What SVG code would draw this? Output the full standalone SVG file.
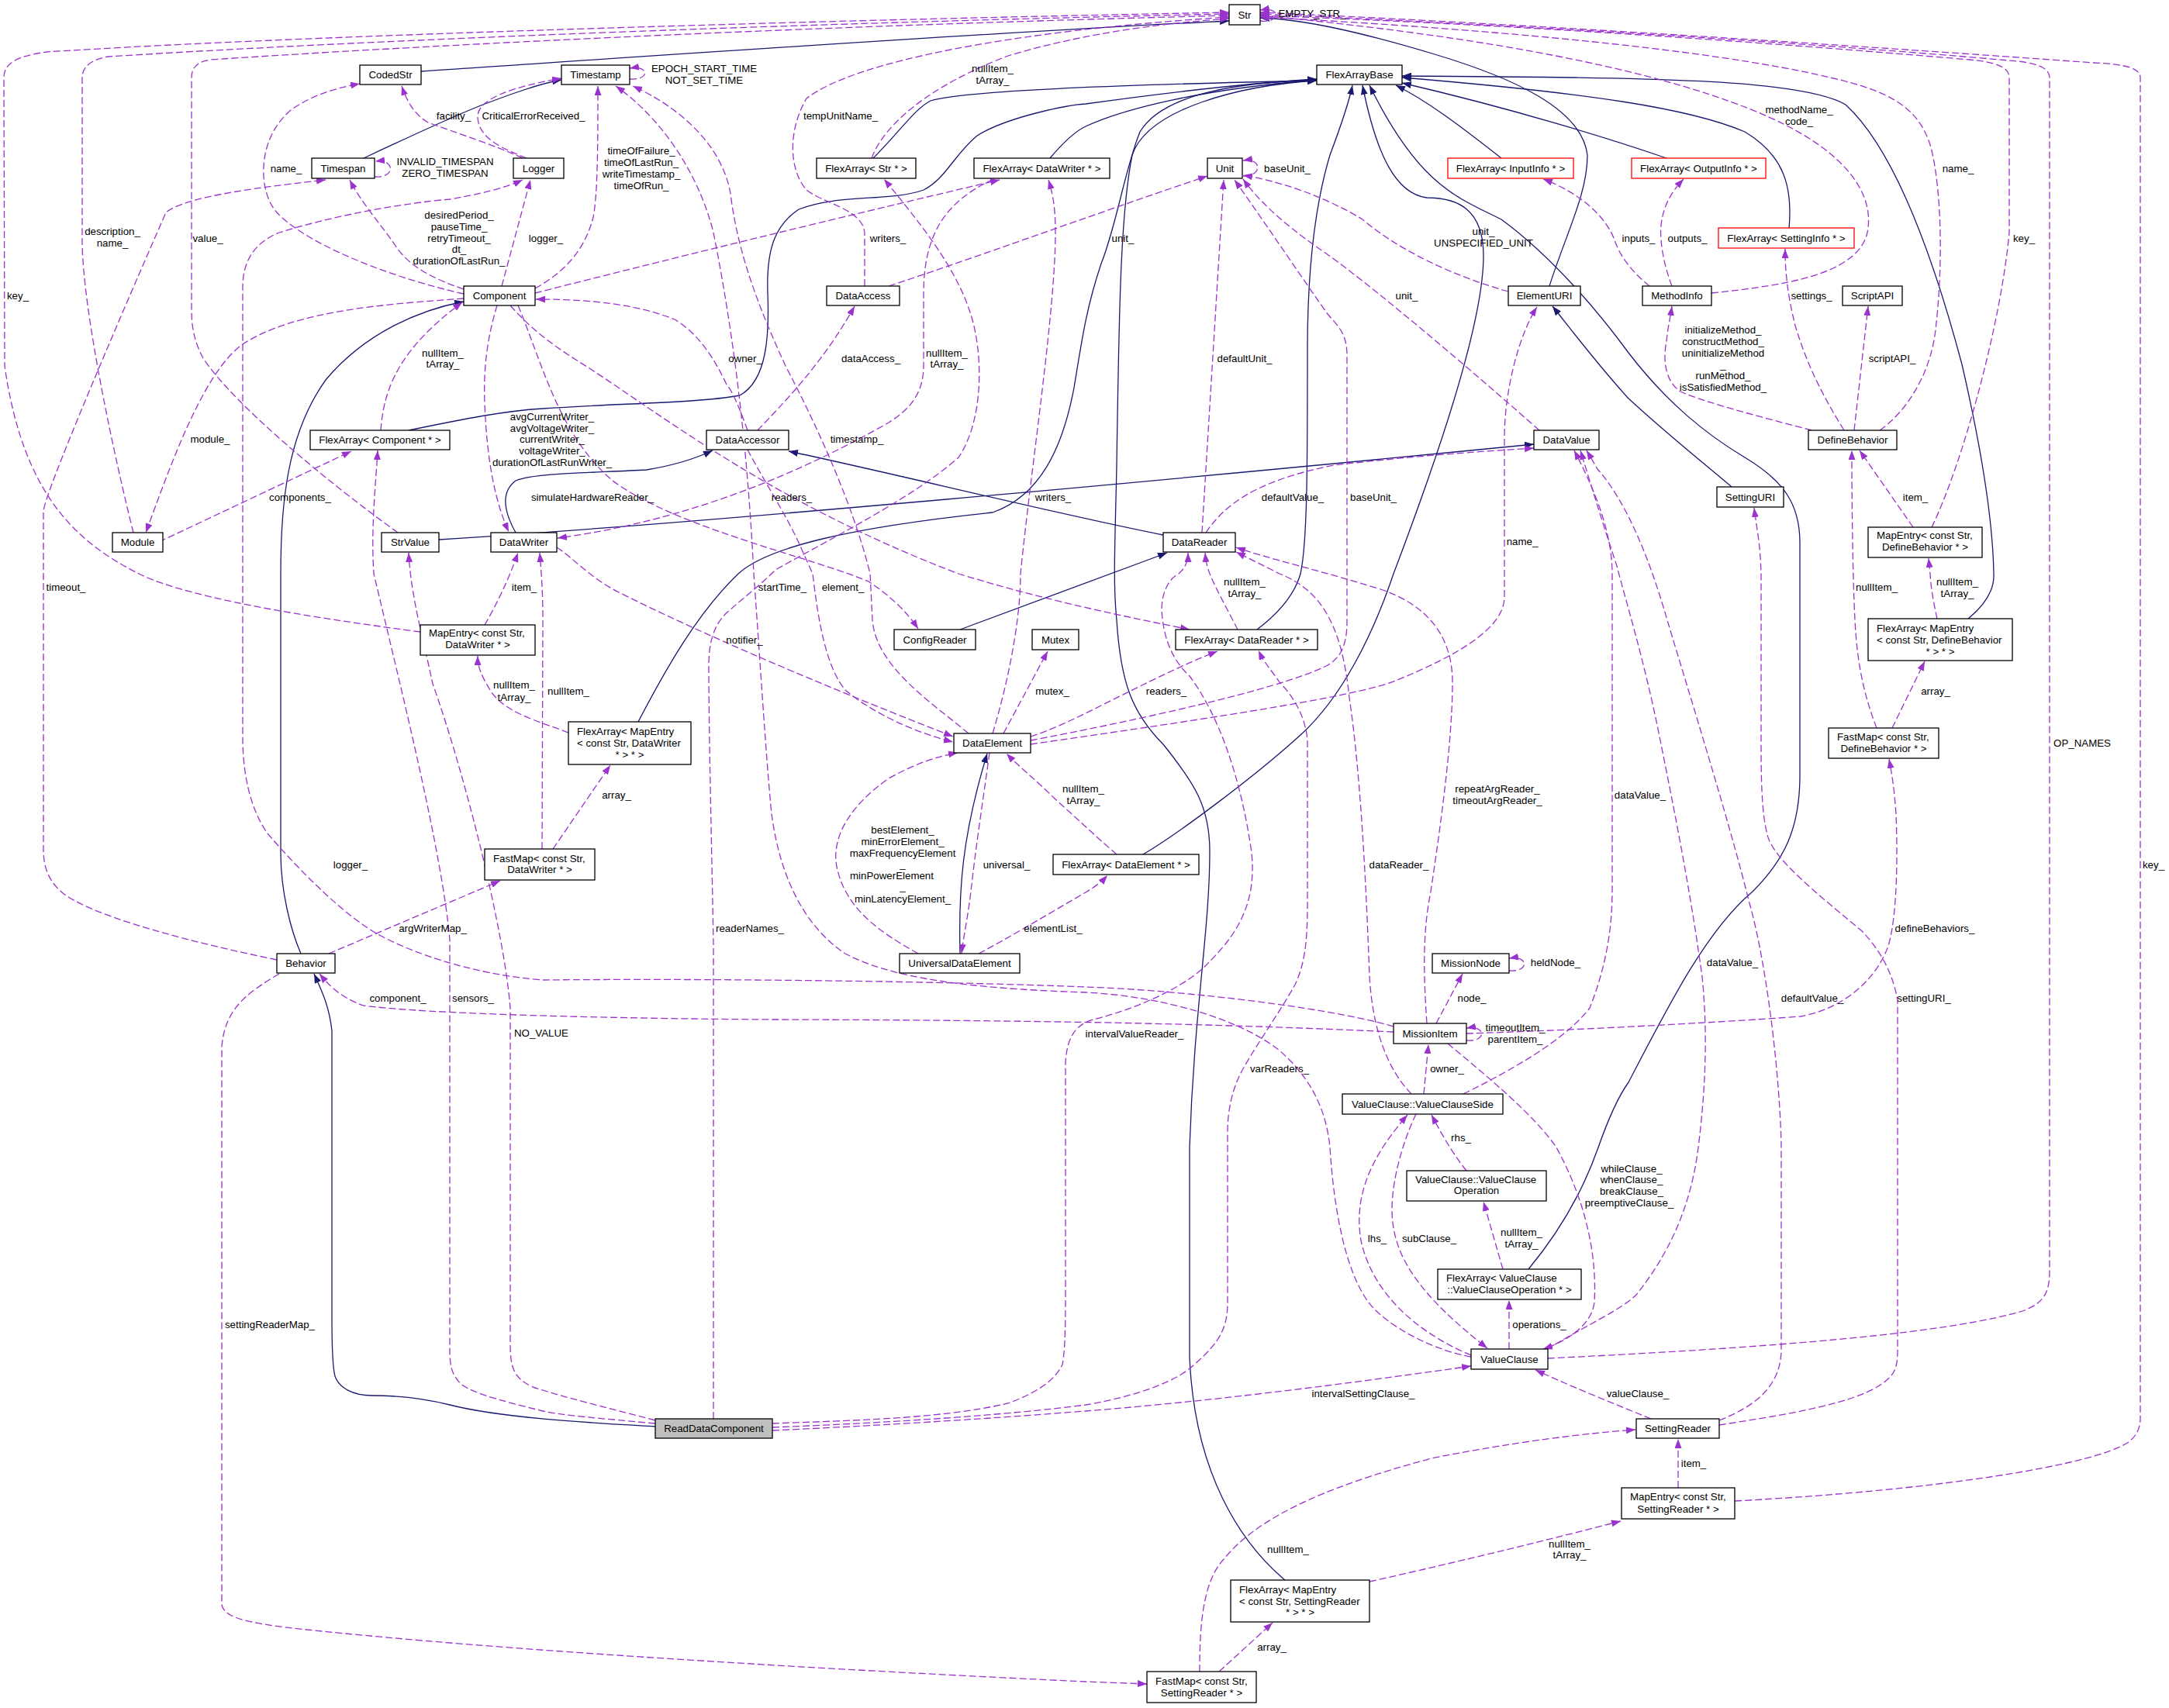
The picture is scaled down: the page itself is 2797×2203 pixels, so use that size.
<svg xmlns="http://www.w3.org/2000/svg" width="2797" height="2203" viewBox="0 0 2797 2203">
<style>
text{font-family:"Liberation Sans",Arial,Helvetica,sans-serif;font-size:13.3px;fill:#000}
.node rect{fill:#fff;stroke:#000;stroke-width:1.3}
.node.red rect{stroke:#ff0000}
.node.main rect{fill:#bfbfbf}
.node text{text-anchor:middle}
.node text.l{text-anchor:start}
.use{fill:none;stroke:#9a32cd;stroke-width:1.3;stroke-dasharray:9,4;marker-end:url(#ap)}
.inh{fill:none;stroke:#191970;stroke-width:1.3;marker-end:url(#ab)}
.lbl text{text-anchor:middle}
</style>
<defs>
<marker id="ap" markerUnits="userSpaceOnUse" markerWidth="12" markerHeight="9" refX="12" refY="4.5" orient="auto"><path d="M0,0 L12,4.5 L0,9 z" fill="#9a32cd"/></marker>
<marker id="ab" markerUnits="userSpaceOnUse" markerWidth="12" markerHeight="9" refX="12" refY="4.5" orient="auto"><path d="M0,0 L12,4.5 L0,9 z" fill="#191970"/></marker>
</defs>
<rect width="2797" height="2203" fill="#fff"/>
<g id="connectors">
<path class="inh" d="M543,92 C800,75 1300,40 1585,27"/>
<path class="inh" d="M469,204 C520,180 580,152 620,136 C660,121 695,108 724,103"/>
<path class="inh" d="M388,1230 C375,1200 362,1150 362,1100 L362,740 C362,650 370,560 420,490 C470,430 540,400 598,389"/>
<path class="inh" d="M845,1840 C780,1836 650,1830 580,1812 C540,1802 500,1800 480,1800 C455,1800 437,1790 432,1775 C428,1760 428,1720 428,1700 L428,1330 C425,1300 416,1280 405,1256"/>
<path class="inh" d="M665,687 C650,660 645,635 665,620 C690,610 760,610 834,606 C870,600 900,590 919,581"/>
<path class="inh" d="M566,696 C900,675 1500,620 1978,573"/>
<path class="inh" d="M1500,690 C1350,660 1150,610 1017,582"/>
<path class="inh" d="M1238,812 L1505,713"/>
<path class="inh" d="M1238,1230 C1236,1150 1240,1080 1273,972"/>
<path class="inh" d="M1998,369 C2020,300 2047,250 2047,200 C2040,140 1950,100 1850,70 C1750,40 1680,25 1625,23"/>
<path class="inh" d="M2233,628 C2200,600 2150,560 2100,514 C2060,470 2030,430 2002,395"/>
<path class="inh" d="M1126,204 C1160,170 1180,140 1200,130 C1250,115 1500,108 1698,104"/>
<path class="inh" d="M1354,204 C1370,185 1385,170 1400,163 C1450,140 1550,115 1698,103"/>
<path class="inh" d="M527,555 C600,540 650,530 700,527 C800,520 900,520 954,510 C990,490 992,430 990,378 C988,320 1000,290 1030,270 C1080,250 1150,260 1191,245 C1220,230 1230,200 1260,175 C1300,150 1380,135 1400,134 C1500,120 1600,108 1698,102"/>
<path class="inh" d="M823,931 C860,860 900,790 952,740 C990,705 1100,680 1280,661 C1340,640 1370,580 1385,500 C1395,440 1400,400 1420,340 C1440,290 1450,220 1470,170 C1500,120 1600,106 1698,103"/>
<path class="inh" d="M1657,2038 C1600,1990 1540,1900 1534,1750 L1534,1480 C1540,1300 1560,1200 1560,1098 C1560,1040 1540,1010 1500,960 C1460,920 1445,880 1440,800 C1435,750 1438,700 1440,600 C1443,400 1445,274 1460,200 C1480,140 1600,110 1698,104"/>
<path class="inh" d="M1621,812 C1650,790 1670,765 1677,740 C1686,700 1686,600 1686,450 C1686,330 1700,250 1715,200 C1730,160 1740,130 1744,110"/>
<path class="inh" d="M1474,1102 C1520,1075 1620,1000 1677,948 C1730,900 1770,820 1797,740 C1850,600 1913,420 1913,330 C1913,270 1880,255 1840,255 C1800,250 1775,200 1757,110"/>
<path class="inh" d="M1936,204 C1880,160 1840,130 1800,110"/>
<path class="inh" d="M2149,204 C2080,180 1950,140 1808,107"/>
<path class="inh" d="M2307,294 C2312,240 2300,200 2250,170 C2180,140 2050,120 1808,100"/>
<path class="inh" d="M2538,798 C2560,780 2572,760 2571,740 C2570,680 2560,600 2530,470 C2490,320 2440,190 2380,135 C2320,100 2100,100 1808,98"/>
<path class="inh" d="M1971,1637 C2010,1590 2040,1540 2061,1480 C2075,1440 2090,1410 2100,1396 C2150,1300 2200,1200 2260,1150 C2300,1110 2321,1070 2321,1000 L2321,700 C2321,650 2300,620 2250,590 C2200,560 2150,520 2100,455 C2060,400 2000,330 1936,283 C1880,255 1830,240 1766,110"/>

<path class="use" d="M1625,27 C1652,30 1652,8 1625,13"/>
<path class="use" d="M542,815 C430,800 250,775 179,740 C100,700 30,640 6,472 L5,100 C5,80 25,72 60,67 C400,45 1100,25 1585,16"/>
<path class="use" d="M172,687 C150,600 106,400 106,310 L106,100 C106,85 120,76 140,73 C500,50 1100,28 1585,18"/>
<path class="use" d="M513,687 C420,620 300,520 262,462 C250,440 247,420 247,400 L247,100 C247,86 256,79 272,77 C600,55 1100,32 1585,20"/>
<path class="use" d="M1115,369 L1115,302 C1115,270 1060,262 1040,245 C1018,220 1015,170 1040,127 C1100,80 1300,40 1585,22"/>
<path class="use" d="M1124,204 C1140,160 1200,110 1300,72 C1400,42 1500,30 1585,24"/>
<path class="use" d="M2207,378 C2300,368 2395,355 2408,300 C2418,250 2380,200 2300,160 C2200,110 2000,55 1625,20"/>
<path class="use" d="M2424,555 C2460,530 2490,480 2496,425 C2505,350 2505,250 2490,190 C2475,140 2440,118 2360,100 C2200,62 1900,36 1625,22"/>
<path class="use" d="M2491,680 C2530,600 2580,420 2591,300 L2591,100 C2591,86 2572,80 2540,77 C2200,48 1900,30 1625,20"/>
<path class="use" d="M1996,1752 C2200,1742 2500,1725 2611,1690 C2635,1680 2643,1668 2643,1640 L2643,100 C2643,86 2622,80 2590,78 C2300,52 1900,30 1625,18"/>
<path class="use" d="M2237,1936 C2500,1922 2700,1890 2745,1860 C2755,1852 2760,1842 2760,1830 L2760,100 C2760,88 2742,83 2700,81 C2300,52 1900,28 1625,16"/>
<path class="use" d="M674,204 C640,188 590,172 552,158 C535,148 525,132 518,111"/>
<path class="use" d="M679,204 C650,192 618,180 616,152 C614,128 660,112 724,101"/>
<path class="use" d="M598,379 C520,362 400,320 357,274 C333,248 330,180 375,142 C400,124 430,114 464,108"/>
<path class="use" d="M598,373 C560,360 530,345 512,320 C492,290 466,262 451,232"/>
<path class="use" d="M647,369 L684,232"/>
<path class="use" d="M690,372 C730,350 755,320 765,280 C771,250 771,180 771,111"/>
<path class="use" d="M690,378 C800,350 1000,300 1289,232"/>
<path class="use" d="M598,385 C500,392 380,400 313,444 C262,480 220,600 188,687"/>
<path class="use" d="M491,555 C495,500 515,450 596,390"/>
<path class="use" d="M205,699 L453,582"/>
<path class="use" d="M641,394 C630,430 623,470 625,520 C628,600 640,650 656,686"/>
<path class="use" d="M658,394 C690,430 720,450 760,475 C860,540 1000,650 1236,740 C1350,775 1450,795 1534,812"/>
<path class="use" d="M668,394 C700,470 720,560 790,620 C870,680 1050,720 1120,750 C1150,770 1170,790 1184,811"/>
<path class="use" d="M1146,369 C1250,335 1400,280 1557,227"/>
<path class="use" d="M977,555 C1010,520 1060,470 1102,395"/>
<path class="use" d="M1281,231 C1220,260 1191,300 1191,380 L1191,472 C1191,510 1170,530 1146,545 C1050,600 900,670 719,694"/>
<path class="use" d="M1280,946 C1300,880 1316,800 1316,740 C1330,600 1361,400 1361,300 C1361,262 1356,245 1352,232"/>
<path class="use" d="M1249,946 C1200,905 1130,860 1125,800 L1122,740 C1110,690 1080,600 1013,472 C980,400 952,330 942,250 C932,190 880,140 816,111"/>
<path class="use" d="M1897,1750 C1850,1742 1790,1712 1765,1680 C1735,1640 1720,1560 1715,1480 C1710,1430 1690,1390 1650,1355 C1600,1315 1500,1285 1400,1280 C1250,1275 1150,1262 1090,1230 C1030,1190 1004,1118 995,1050 C988,980 980,850 972,740 C965,600 950,450 920,300 C900,220 850,150 794,111"/>
<path class="use" d="M964,555 C955,530 945,505 937,496 C920,460 900,430 870,412 C820,392 760,386 691,386"/>
<path class="use" d="M964,580 C985,620 1012,661 1030,700 L1048,740 C1055,800 1065,860 1090,890 C1124,919 1180,945 1229,957"/>
<path class="use" d="M718,706 C740,720 760,745 800,765 C900,815 1050,880 1229,950"/>
<path class="use" d="M1550,687 L1578,232"/>
<path class="use" d="M1555,687 C1580,650 1620,620 1720,600 C1850,585 1950,580 1978,578"/>
<path class="use" d="M1985,555 C1900,480 1760,360 1700,320 C1650,285 1620,255 1603,231"/>
<path class="use" d="M1945,376 C1870,355 1800,320 1757,283 C1720,260 1660,235 1603,226"/>
<path class="use" d="M1329,955 C1450,932 1650,890 1712,858 C1735,845 1737,820 1737,800 L1737,458 C1737,430 1725,420 1712,405 C1680,360 1640,300 1592,232"/>
<path class="use" d="M1329,960 C1500,935 1750,900 1802,877 C1880,845 1940,810 1940,770 L1940,566 C1940,500 1960,430 1982,396"/>
<path class="use" d="M1329,950 C1360,940 1390,925 1420,910 C1480,880 1530,855 1570,840"/>
<path class="use" d="M1294,946 L1351,840"/>
<path class="use" d="M1276,971 C1268,1030 1258,1094 1252,1150 C1247,1190 1242,1210 1240,1230"/>
<path class="use" d="M1184,1230 C1130,1200 1090,1170 1079,1118 C1072,1080 1095,1040 1146,1004 C1180,985 1210,975 1235,971"/>
<path class="use" d="M1262,1230 C1300,1210 1350,1180 1400,1151 C1410,1145 1420,1138 1428,1129"/>
<path class="use" d="M1440,1102 C1420,1085 1400,1066 1360,1030 C1335,1005 1315,990 1298,972"/>
<path class="use" d="M1596,812 C1585,790 1568,760 1560,740 C1557,732 1555,725 1554,713"/>
<path class="use" d="M996,1836 C1100,1832 1213,1830 1300,1810 C1340,1795 1360,1780 1370,1760 C1374,1740 1374,1700 1374,1650 L1374,1370 C1376,1340 1385,1322 1410,1315 C1470,1300 1534,1270 1560,1240 C1600,1200 1620,1160 1614,1100 C1600,1000 1570,920 1534,872 C1510,850 1500,820 1498,787 C1498,760 1510,745 1520,740 C1528,733 1532,725 1532,713"/>
<path class="use" d="M996,1841 C1150,1835 1300,1825 1400,1812 C1470,1800 1520,1780 1540,1760 C1575,1730 1583,1710 1583,1680 L1583,1460 C1583,1430 1590,1400 1605,1375 C1625,1340 1650,1306 1670,1270 C1686,1236 1686,1200 1686,1150 L1686,960 C1686,930 1670,900 1650,880 C1640,865 1630,855 1623,839"/>
<path class="use" d="M996,1845 C1150,1838 1300,1828 1400,1820 C1550,1808 1700,1790 1897,1762"/>
<path class="use" d="M920,1830 L920,1220 C918,1100 914,950 914,858 C914,820 925,800 941,787 C960,770 980,755 1000,735 C1080,690 1180,640 1236,590 C1270,540 1268,450 1250,400 C1230,340 1180,280 1140,231"/>
<path class="use" d="M845,1836 C780,1830 720,1825 700,1820 C640,1805 600,1795 590,1780 C582,1770 580,1760 580,1740 L580,1212 C570,1100 520,900 482,740 C478,680 485,620 487,581"/>
<path class="use" d="M845,1832 C780,1815 720,1800 700,1793 C680,1788 670,1780 664,1770 C659,1760 658,1750 658,1730 L658,1300 C650,1200 600,1000 558,882 C545,820 530,770 527,713"/>
<path class="use" d="M1797,1331 C1600,1322 1400,1316 1000,1315 C800,1314 550,1308 469,1297 C440,1287 425,1272 412,1256"/>
<path class="use" d="M1797,1324 C1700,1296 1500,1276 1400,1273 C1200,1265 900,1262 700,1264 C600,1256 525,1225 491,1207 C440,1180 375,1110 345,1075 C320,1040 313,990 313,952 L313,370 C313,335 330,312 360,300 C430,278 520,262 580,257 C620,250 650,243 674,232"/>
<path class="use" d="M357,1238 C250,1216 130,1185 85,1155 C62,1138 56,1118 56,1095 L56,660 C56,640 150,420 214,274 C240,252 350,240 420,232"/>
<path class="use" d="M360,1256 C320,1280 290,1300 286,1350 L286,2070 C290,2090 330,2096 446,2107 C700,2132 1100,2155 1400,2169 L1479,2172"/>
<path class="use" d="M424,1230 L645,1136"/>
<path class="use" d="M713,1095 L787,987"/>
<path class="use" d="M699,1095 L700,800 C700,760 698,740 696,713"/>
<path class="use" d="M733,945 C700,932 650,920 632,890 C620,870 616,860 616,846"/>
<path class="use" d="M625,806 C640,780 655,750 668,713"/>
<path class="use" d="M1852,1320 L1886,1256"/>
<path class="use" d="M1836,1411 L1842,1347"/>
<path class="use" d="M1826,1437 C1810,1470 1795,1520 1795,1560 C1795,1620 1830,1670 1918,1739"/>
<path class="use" d="M1897,1748 C1830,1720 1770,1670 1755,1600 C1745,1540 1770,1490 1815,1438"/>
<path class="use" d="M1891,1510 C1875,1490 1860,1465 1846,1438"/>
<path class="use" d="M1938,1637 L1913,1550"/>
<path class="use" d="M1946,1740 L1946,1677"/>
<path class="use" d="M1887,1411 C1950,1380 2020,1340 2050,1300 C2070,1250 2079,1200 2079,1150 L2079,740 C2079,680 2050,620 2030,581"/>
<path class="use" d="M1994,1741 C2040,1712 2090,1690 2110,1670 C2150,1620 2180,1560 2190,1480 C2200,1400 2202,1330 2195,1260 C2180,1150 2160,1050 2140,950 C2120,850 2095,770 2085,730 C2065,670 2050,620 2038,581"/>
<path class="use" d="M1867,1346 C1920,1390 1980,1440 2007,1480 C2040,1540 2060,1610 2056,1680 C2052,1710 2020,1730 1990,1740"/>
<path class="use" d="M1840,1320 C1835,1250 1835,1200 1845,1150 C1860,1050 1873,950 1873,880 C1873,820 1840,780 1780,760 C1700,735 1640,722 1594,706"/>
<path class="use" d="M1820,1411 C1790,1380 1770,1330 1766,1259 C1762,1150 1755,1000 1740,900 C1730,800 1700,760 1650,740 C1630,730 1610,720 1594,712"/>
<path class="use" d="M1891,1333 C2000,1330 2200,1320 2322,1311 C2380,1300 2420,1262 2435,1220 C2447,1180 2447,1100 2445,1050 C2443,1020 2440,1000 2436,979"/>
<path class="use" d="M2217,1832 C2260,1815 2297,1790 2297,1740 L2297,1480 C2296,1400 2280,1250 2256,1165 C2230,1060 2180,900 2150,800 C2130,730 2100,650 2060,605 L2046,581"/>
<path class="use" d="M2217,1838 C2300,1825 2400,1810 2433,1780 C2445,1770 2447,1760 2447,1740 L2447,1290 C2440,1250 2420,1220 2400,1200 C2340,1150 2290,1110 2280,1080 C2271,1050 2271,1000 2271,950 L2271,740 C2270,700 2265,680 2262,655"/>
<path class="use" d="M2129,1830 C2080,1810 2030,1790 1980,1767"/>
<path class="use" d="M2164,1919 L2164,1856"/>
<path class="use" d="M1766,2040 C1900,2010 2000,1985 2090,1962"/>
<path class="use" d="M1572,2156 L1641,2093"/>
<path class="use" d="M1547,2156 C1547,2100 1550,2040 1579,2010 C1620,1960 1700,1920 1846,1881 C1950,1860 2050,1848 2109,1844"/>
<path class="use" d="M2127,369 C2110,355 2090,335 2081,307 C2070,280 2040,250 1990,231"/>
<path class="use" d="M2156,369 C2145,340 2140,310 2142,290 C2145,265 2155,248 2171,231"/>
<path class="use" d="M2336,555 C2280,540 2200,520 2167,505 C2145,490 2145,460 2149,440 C2151,420 2154,410 2156,395"/>
<path class="use" d="M2378,555 C2350,510 2330,470 2315,420 C2305,380 2302,350 2302,321"/>
<path class="use" d="M2391,555 L2409,395"/>
<path class="use" d="M2467,680 L2398,581"/>
<path class="use" d="M2420,939 C2405,900 2395,860 2392,800 C2389,740 2388,650 2388,581"/>
<path class="use" d="M2440,939 L2482,853"/>
<path class="use" d="M2498,798 C2494,780 2490,760 2489,740 L2487,720"/>
<path class="use" d="M483,228 C510,230 510,205 484,208"/>
<path class="use" d="M812,102 C838,104 838,84 812,88"/>
<path class="use" d="M1603,227 C1628,228 1628,203 1603,207"/>
<path class="use" d="M1946,1252 C1972,1254 1972,1232 1946,1236"/>
<path class="use" d="M1891,1342 C1917,1344 1917,1322 1891,1326"/>
<g class="lbl">
<text x="1692" y="21.5">EMPTY_STR_</text>
<text x="688" y="153.5">CriticalErrorReceived_</text>
<text x="585" y="153.5">facility_</text>
<text x="369" y="221.5">name_</text>
<text x="574" y="212.5">INVALID_TIMESPAN</text><text x="574" y="227.5">ZERO_TIMESPAN</text>
<text x="908" y="92.5">EPOCH_START_TIME</text><text x="908" y="107.5">NOT_SET_TIME</text>
<text x="1280" y="92.5">nullItem_</text><text x="1280" y="107.5">tArray_</text>
<text x="1084" y="153.5">tempUnitName_</text>
<text x="827" y="198.5">timeOfFailure_</text><text x="827" y="213.5">timeOfLastRun_</text><text x="827" y="228.5">writeTimestamp_</text><text x="827" y="243.5">timeOfRun_</text>
<text x="2320" y="145.5">methodName_</text><text x="2320" y="160.5">code_</text>
<text x="1660" y="221.5">baseUnit_</text>
<text x="2525" y="221.5">name_</text>
<text x="145" y="302.5">description_</text><text x="145" y="317.5">name_</text>
<text x="268" y="311.5">value_</text>
<text x="592" y="281.5">desiredPeriod_</text><text x="592" y="296.5">pauseTime_</text><text x="592" y="311.5">retryTimeout_</text><text x="592" y="325.5">dt_</text><text x="592" y="340.5">durationOfLastRun_</text>
<text x="704" y="311.5">logger_</text>
<text x="1145" y="311.5">writers_</text>
<text x="1448" y="311.5">unit_</text>
<text x="1913" y="302.5">unit_</text><text x="1913" y="317.5">UNSPECIFIED_UNIT</text>
<text x="2113" y="311.5">inputs_</text>
<text x="2176" y="311.5">outputs_</text>
<text x="2610" y="311.5">key_</text>
<text x="23" y="385.5">key_</text>
<text x="1814" y="385.5">unit_</text>
<text x="2336" y="385.5">settings_</text>
<text x="2222" y="429.5">initializeMethod_</text><text x="2222" y="444.5">constructMethod_</text><text x="2222" y="459.5">uninitializeMethod</text><text x="2222" y="474.5">_</text><text x="2222" y="488.5">runMethod_</text><text x="2222" y="503.5">isSatisfiedMethod_</text>
<text x="571" y="459.5">nullItem_</text><text x="571" y="473.5">tArray_</text>
<text x="961" y="466.5">owner_</text>
<text x="1123" y="466.5">dataAccess_</text>
<text x="1221" y="459.5">nullItem_</text><text x="1221" y="473.5">tArray_</text>
<text x="1605" y="466.5">defaultUnit_</text>
<text x="2440" y="466.5">scriptAPI_</text>
<text x="712" y="541.5">avgCurrentWriter_</text><text x="712" y="556.5">avgVoltageWriter_</text><text x="712" y="570.5">currentWriter_</text><text x="712" y="585.5">voltageWriter_</text><text x="712" y="600.5">durationOfLastRunWriter_</text>
<text x="271" y="570.5">module_</text>
<text x="1105" y="570.5">timestamp_</text>
<text x="387" y="645.5">components_</text>
<text x="764" y="645.5">simulateHardwareReader_</text>
<text x="1021" y="645.5">readers_</text>
<text x="1358" y="645.5">writers_</text>
<text x="1667" y="645.5">defaultValue_</text>
<text x="1771" y="645.5">baseUnit_</text>
<text x="2470" y="645.5">item_</text>
<text x="1963" y="702.5">name_</text>
<text x="85" y="761.5">timeout_</text>
<text x="676" y="761.5">item_</text>
<text x="1009" y="761.5">startTime_</text>
<text x="1087" y="761.5">element_</text>
<text x="2420" y="761.5">nullItem_</text>
<text x="1605" y="754.5">nullItem_</text><text x="1605" y="769.5">tArray_</text>
<text x="2524" y="754.5">nullItem_</text><text x="2524" y="769.5">tArray_</text>
<text x="960" y="829.5">notifier_</text>
<text x="663" y="887.5">nullItem_</text><text x="663" y="903.5">tArray_</text>
<text x="733" y="895.5">nullItem_</text>
<text x="1357" y="895.5">mutex_</text>
<text x="1504" y="895.5">readers_</text>
<text x="2496" y="895.5">array_</text>
<text x="2685" y="962.5">OP_NAMES</text>
<text x="1397" y="1021.5">nullItem_</text><text x="1397" y="1036.5">tArray_</text>
<text x="1931" y="1021.5">repeatArgReader_</text><text x="1931" y="1036.5">timeoutArgReader_</text>
<text x="2115" y="1029.5">dataValue_</text>
<text x="795" y="1029.5">array_</text>
<text x="1164" y="1074.5">bestElement_</text><text x="1164" y="1089.5">minErrorElement_</text><text x="1164" y="1104.5">maxFrequencyElement</text><text x="1164" y="1118.5">_</text><text x="1150" y="1133.5">minPowerElement</text><text x="1164" y="1147.5">_</text><text x="1164" y="1163.5">minLatencyElement_</text>
<text x="452" y="1119.5">logger_</text>
<text x="1298" y="1119.5">universal_</text>
<text x="1804" y="1119.5">dataReader_</text>
<text x="2777" y="1119.5">key_</text>
<text x="558" y="1201.5">argWriterMap_</text>
<text x="967" y="1201.5">readerNames_</text>
<text x="1358" y="1201.5">elementList_</text>
<text x="2495" y="1201.5">defineBehaviors_</text>
<text x="2006" y="1245.5">heldNode_</text>
<text x="2234" y="1245.5">dataValue_</text>
<text x="513" y="1291.5">component_</text>
<text x="610" y="1291.5">sensors_</text>
<text x="1898" y="1291.5">node_</text>
<text x="2337" y="1291.5">defaultValue_</text>
<text x="2481" y="1291.5">settingURI_</text>
<text x="1954" y="1329.5">timeoutItem_</text><text x="1954" y="1344.5">parentItem_</text>
<text x="698" y="1336.5">NO_VALUE</text>
<text x="1463" y="1337.5">intervalValueReader_</text>
<text x="1650" y="1382.5">varReaders_</text>
<text x="1866" y="1382.5">owner_</text>
<text x="1884" y="1471.5">rhs_</text>
<text x="2104" y="1511.5">whileClause_</text><text x="2104" y="1525.5">whenClause_</text><text x="2104" y="1540.5">breakClause_</text><text x="2101" y="1555.5">preemptiveClause_</text>
<text x="1776" y="1601.5">lhs_</text>
<text x="1843" y="1601.5">subClause_</text>
<text x="1962" y="1593.5">nullItem_</text><text x="1962" y="1608.5">tArray_</text>
<text x="1985" y="1712.5">operations_</text>
<text x="348" y="1712.5">settingReaderMap_</text>
<text x="1758" y="1801.5">intervalSettingClause_</text>
<text x="2112" y="1801.5">valueClause_</text>
<text x="2184" y="1891.5">item_</text>
<text x="1661" y="2002.5">nullItem_</text>
<text x="2024" y="1995.5">nullItem_</text><text x="2024" y="2009.5">tArray_</text>
<text x="1640" y="2128.5">array_</text>
</g>
</g>
<g id="n-Str" class="node"><rect x="1585" y="6" width="40" height="26"/><text x="1605" y="23.5">Str</text></g>
<g id="n-FlexArrayBase" class="node"><rect x="1698" y="84" width="110" height="25"/><text x="1753" y="101">FlexArrayBase</text></g>
<g id="n-CodedStr" class="node"><rect x="464" y="84" width="79" height="25"/><text x="503.5" y="101">CodedStr</text></g>
<g id="n-Timestamp" class="node"><rect x="724" y="84" width="88" height="25"/><text x="768" y="101">Timestamp</text></g>
<g id="n-Timespan" class="node"><rect x="402" y="204" width="81" height="26"/><text x="442.5" y="221.5">Timespan</text></g>
<g id="n-Logger" class="node"><rect x="662" y="204" width="65" height="26"/><text x="694.5" y="221.5">Logger</text></g>
<g id="n-FlexArrayStr" class="node"><rect x="1053" y="204" width="128" height="26"/><text x="1117" y="221.5">FlexArray&lt; Str * &gt;</text></g>
<g id="n-FlexArrayDataWriter" class="node"><rect x="1256" y="204" width="175" height="26"/><text x="1343.5" y="221.5">FlexArray&lt; DataWriter * &gt;</text></g>
<g id="n-Unit" class="node"><rect x="1557" y="204" width="45" height="26"/><text x="1579.5" y="221.5">Unit</text></g>
<g id="n-FlexArrayInputInfo" class="node red"><rect x="1867" y="204" width="162" height="26"/><text x="1948" y="221.5">FlexArray&lt; InputInfo * &gt;</text></g>
<g id="n-FlexArrayOutputInfo" class="node red"><rect x="2104" y="204" width="173" height="26"/><text x="2190.5" y="221.5">FlexArray&lt; OutputInfo * &gt;</text></g>
<g id="n-FlexArraySettingInfo" class="node red"><rect x="2216" y="294" width="175" height="26"/><text x="2303.5" y="311.5">FlexArray&lt; SettingInfo * &gt;</text></g>
<g id="n-Component" class="node"><rect x="598" y="369" width="92" height="25"/><text x="644" y="386">Component</text></g>
<g id="n-DataAccess" class="node"><rect x="1066" y="369" width="94" height="25"/><text x="1113" y="386">DataAccess</text></g>
<g id="n-ElementURI" class="node"><rect x="1945" y="369" width="93" height="25"/><text x="1991.5" y="386">ElementURI</text></g>
<g id="n-MethodInfo" class="node"><rect x="2118" y="369" width="89" height="25"/><text x="2162.5" y="386">MethodInfo</text></g>
<g id="n-ScriptAPI" class="node"><rect x="2376" y="369" width="77" height="25"/><text x="2414.5" y="386">ScriptAPI</text></g>
<g id="n-FlexArrayComponent" class="node"><rect x="400" y="555" width="180" height="25"/><text x="490" y="572">FlexArray&lt; Component * &gt;</text></g>
<g id="n-DataAccessor" class="node"><rect x="911" y="555" width="106" height="25"/><text x="964" y="572">DataAccessor</text></g>
<g id="n-DataValue" class="node"><rect x="1978" y="555" width="84" height="25"/><text x="2020" y="572">DataValue</text></g>
<g id="n-DefineBehavior" class="node"><rect x="2332" y="555" width="114" height="25"/><text x="2389" y="572">DefineBehavior</text></g>
<g id="n-SettingURI" class="node"><rect x="2214" y="628" width="86" height="26"/><text x="2257" y="645.5">SettingURI</text></g>
<g id="n-MapEntryDefineBehavior" class="node"><rect x="2409" y="680" width="147" height="39"/><text class="l" x="2420" y="695">MapEntry&lt; const Str,</text><text x="2482.5" y="710">DefineBehavior * &gt;</text></g>
<g id="n-Module" class="node"><rect x="145" y="687" width="65" height="25"/><text x="177.5" y="704">Module</text></g>
<g id="n-StrValue" class="node"><rect x="492" y="687" width="74" height="25"/><text x="529" y="704">StrValue</text></g>
<g id="n-DataWriter" class="node"><rect x="633" y="687" width="85" height="25"/><text x="675.5" y="704">DataWriter</text></g>
<g id="n-DataReader" class="node"><rect x="1500" y="687" width="93" height="25"/><text x="1546.5" y="704">DataReader</text></g>
<g id="n-MapEntryDataWriter" class="node"><rect x="542" y="806" width="148" height="39"/><text class="l" x="553" y="821">MapEntry&lt; const Str,</text><text x="616" y="836">DataWriter * &gt;</text></g>
<g id="n-FlexArrayMapEntryDefineBehavior" class="node"><rect x="2409" y="798" width="186" height="54"/><text class="l" x="2420" y="814.5">FlexArray&lt; MapEntry</text><text class="l" x="2420" y="829.5">&lt; const Str, DefineBehavior</text><text x="2502" y="844.5">* &gt; * &gt;</text></g>
<g id="n-ConfigReader" class="node"><rect x="1153" y="812" width="105" height="26"/><text x="1205.5" y="829.5">ConfigReader</text></g>
<g id="n-Mutex" class="node"><rect x="1331" y="812" width="60" height="26"/><text x="1361" y="829.5">Mutex</text></g>
<g id="n-FlexArrayDataReader" class="node"><rect x="1516" y="812" width="183" height="26"/><text x="1607.5" y="829.5">FlexArray&lt; DataReader * &gt;</text></g>
<g id="n-FlexArrayMapEntryDataWriter" class="node"><rect x="733" y="931" width="158" height="55"/><text class="l" x="744" y="948">FlexArray&lt; MapEntry</text><text class="l" x="744" y="963">&lt; const Str, DataWriter</text><text x="812" y="978">* &gt; * &gt;</text></g>
<g id="n-DataElement" class="node"><rect x="1230" y="946" width="99" height="25"/><text x="1279.5" y="963">DataElement</text></g>
<g id="n-FastMapDefineBehavior" class="node"><rect x="2358" y="939" width="142" height="39"/><text class="l" x="2369" y="954.5">FastMap&lt; const Str,</text><text x="2429" y="969.5">DefineBehavior * &gt;</text></g>
<g id="n-FastMapDataWriter" class="node"><rect x="625" y="1095" width="142" height="40"/><text class="l" x="636" y="1111.5">FastMap&lt; const Str,</text><text x="696" y="1125.5">DataWriter * &gt;</text></g>
<g id="n-FlexArrayDataElement" class="node"><rect x="1358" y="1102" width="188" height="26"/><text x="1452" y="1119.5">FlexArray&lt; DataElement * &gt;</text></g>
<g id="n-Behavior" class="node"><rect x="357" y="1230" width="75" height="25"/><text x="394.5" y="1247">Behavior</text></g>
<g id="n-UniversalDataElement" class="node"><rect x="1160" y="1230" width="155" height="25"/><text x="1237.5" y="1247">UniversalDataElement</text></g>
<g id="n-MissionNode" class="node"><rect x="1847" y="1230" width="99" height="25"/><text x="1896.5" y="1247">MissionNode</text></g>
<g id="n-MissionItem" class="node"><rect x="1797" y="1320" width="94" height="26"/><text x="1844" y="1337.5">MissionItem</text></g>
<g id="n-ValueClauseSide" class="node"><rect x="1731" y="1411" width="207" height="26"/><text x="1834.5" y="1428.5">ValueClause::ValueClauseSide</text></g>
<g id="n-ValueClauseOperation" class="node"><rect x="1814" y="1510" width="180" height="39"/><text class="l" x="1825" y="1526">ValueClause::ValueClause</text><text x="1904" y="1540">Operation</text></g>
<g id="n-FlexArrayValueClauseOperation" class="node"><rect x="1854" y="1637" width="185" height="39"/><text class="l" x="1865" y="1653">FlexArray&lt; ValueClause</text><text x="1946.5" y="1668">::ValueClauseOperation * &gt;</text></g>
<g id="n-ValueClause" class="node"><rect x="1897" y="1740" width="99" height="26"/><text x="1946.5" y="1757.5">ValueClause</text></g>
<g id="n-ReadDataComponent" class="node main"><rect x="845" y="1830" width="151" height="25"/><text x="920.5" y="1847">ReadDataComponent</text></g>
<g id="n-SettingReader" class="node"><rect x="2110" y="1830" width="107" height="25"/><text x="2163.5" y="1847">SettingReader</text></g>
<g id="n-MapEntrySettingReader" class="node"><rect x="2091" y="1919" width="146" height="40"/><text class="l" x="2102" y="1934.5">MapEntry&lt; const Str,</text><text x="2164" y="1950.5">SettingReader * &gt;</text></g>
<g id="n-FlexArrayMapEntrySettingReader" class="node"><rect x="1587" y="2038" width="179" height="54"/><text class="l" x="1598" y="2054.5">FlexArray&lt; MapEntry</text><text class="l" x="1598" y="2069.5">&lt; const Str, SettingReader</text><text x="1676.5" y="2083.5">* &gt; * &gt;</text></g>
<g id="n-FastMapSettingReader" class="node"><rect x="1479" y="2156" width="141" height="40"/><text class="l" x="1490" y="2172.5">FastMap&lt; const Str,</text><text x="1549.5" y="2187.5">SettingReader * &gt;</text></g>
</svg>
